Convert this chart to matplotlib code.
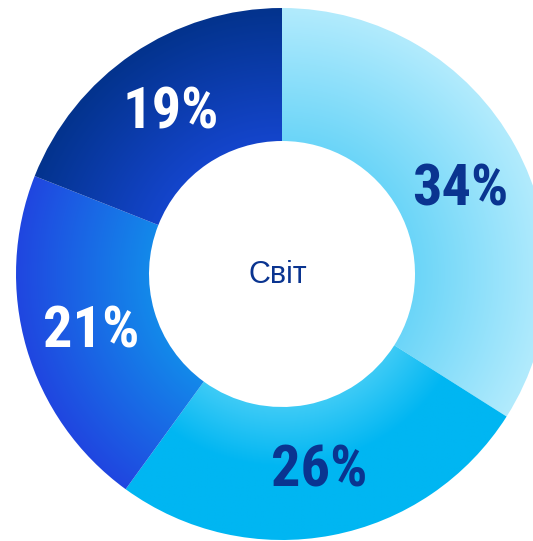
import matplotlib
matplotlib.use('Agg')
import matplotlib.pyplot as plt
import numpy as np
from matplotlib.colors import to_rgb

# data
labels  = ['34%', '26%', '21%', '19%']
values  = [34, 26, 21, 19]
centre  = 'Світ'

# inner / outer colours of the radial gradients, and label colours
INNER   = ['#6bd5f8', '#3ecbf6', '#1389ea', '#1445cc']
OUTER   = ['#b2ebfd', '#00b6f2', '#2046e0', '#03338d']
RAMP    = [1.0, 0.45, 1.0, 1.0]   # fraction of ring width the gradient spans
TXT     = ['#0a3490', '#0a3490', 'white', 'white']
NAVY    = '#0a3490'

W, H, DPI = 533, 541, 100
CX, CY, RPX = 282, 274, 266   # centre and outer radius, pixels
HOLE = 0.5

fig = plt.figure(figsize=(W / DPI, H / DPI), dpi=DPI)
ax = fig.add_axes([0, 0, 1, 1])
ax.axis('off')

wedges, _ = ax.pie(values, startangle=90, counterclock=False, radius=1,
                   wedgeprops=dict(width=1 - HOLE, linewidth=0))
x0, x1 = -CX / RPX, (W - CX) / RPX
y0, y1 = -(H - CY) / RPX, CY / RPX
ax.set_aspect('auto')
ax.set_xlim(x0, x1)
ax.set_ylim(y0, y1)

# radial gradient images clipped to each wedge
xx, yy = np.meshgrid(np.linspace(x0, x1, 600), np.linspace(y1, y0, 600))
rr = np.hypot(xx, yy)
for w, ci, co, ramp in zip(wedges, INNER, OUTER, RAMP):
  t = np.clip((rr - HOLE) / ((1 - HOLE) * ramp), 0, 1)[..., None]
  img = np.array(to_rgb(ci)) * (1 - t) + np.array(to_rgb(co)) * t
  im = ax.imshow(img, extent=(x0, x1, y0, y1), interpolation='bilinear',
                 zorder=2, aspect='auto')
  im.set_clip_path(w)
  w.set_alpha(0)

ax.set_xlim(x0, x1)
ax.set_ylim(y0, y1)

# percentage labels on the ring midline
for w, lab, col in zip(wedges, labels, TXT):
  mid = np.deg2rad((w.theta1 + w.theta2) / 2)
  if lab == '34%':
    mid -= np.deg2rad(3)   # the first label sits a little lower
  r = 0.745
  ax.text(r * np.cos(mid), r * np.sin(mid) - 0.01, lab, color=col, fontsize=42,
          fontweight='bold', fontstretch='condensed',
          family=['Roboto Condensed', 'Roboto', 'DejaVu Sans'],
          ha='center', va='center', zorder=5)

ax.text(-0.015, -0.005, centre, color=NAVY, fontsize=22,
        family=['Liberation Sans', 'DejaVu Sans'],
        ha='center', va='center', zorder=5)

fig.savefig('out.png', dpi=DPI, facecolor='white')
